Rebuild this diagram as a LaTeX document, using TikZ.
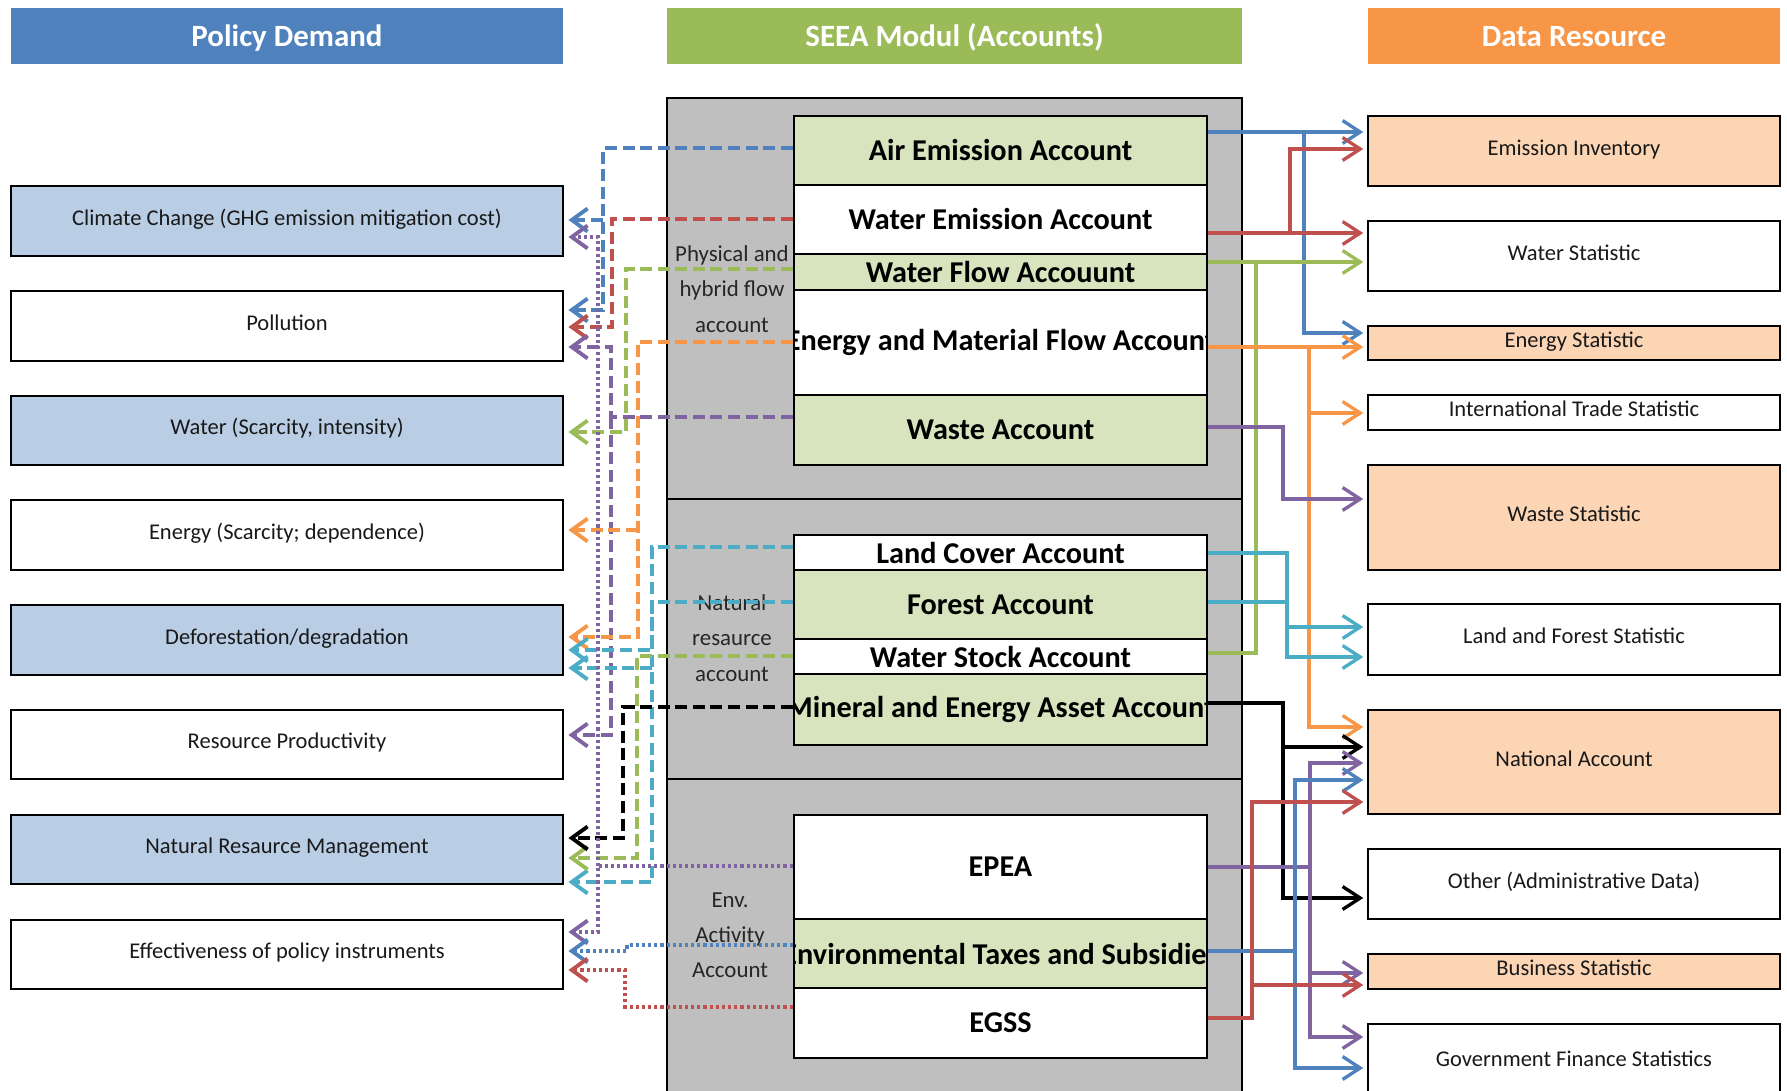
\documentclass[tikz,border=0pt]{standalone}
\usepackage{fontspec}
\setmainfont{Carlito}
\usetikzlibrary{arrows.meta,calc}
\definecolor{cblue}{HTML}{4F81BD}
\definecolor{cred}{HTML}{C0504D}
\definecolor{cgreen}{HTML}{9BBB59}
\definecolor{corange}{HTML}{F79646}
\definecolor{cpurple}{HTML}{8064A2}
\definecolor{ccyan}{HTML}{4BACC6}
\definecolor{lblue}{HTML}{B9CDE5}
\definecolor{lorange}{HTML}{FCD5B5}
\definecolor{lgreen}{HTML}{D7E4BD}
\definecolor{cgray}{HTML}{BFBFBF}
% style, name, x1, y1, x2, y2, fill, text
\newcommand{\boxat}[8]{%
  \node[#1, fill=#7, minimum width={(#5-#3)*0.01cm}, minimum height={(#6-#4)*0.01cm}]
    (#2) at ({(#3+#5)/2},{(#4+#6)/2}) {#8};}
% name, x1, y1, x2, y2, fill, text  (text clipped to the box)
\newcommand{\seeabox}[7]{%
  \boxat{acct}{#1}{#2}{#3}{#4}{#5}{#6}{}
  \begin{scope}
    \clip (#2,#3) rectangle (#4,#5);
    \node[accttext] (#1-t) at (#1.center) {#7};
  \end{scope}}
\begin{document}
\begin{tikzpicture}[x=0.01cm,y=-0.01cm,
  lhead/.tip={Straight Barb[length=4.5pt,width=6.5pt]},
  rhead/.tip={Straight Barb[length=5pt,width=6.5pt]},
  hdr/.style={inner sep=0pt, text=white, text height=0.7em, text depth=0.1em, font=\bfseries\fontsize{8.8}{10}\selectfont},
  pbox/.style={draw=black, line width=0.7pt, inner sep=0pt, text=black!90, text height=0.6em, text depth=0.35em, font=\fontsize{6.4}{7.5}\selectfont},
  acct/.style={draw=black, line width=0.7pt, inner sep=0pt},
  accttext/.style={inner sep=0pt, font=\bfseries\fontsize{8.6}{10}\selectfont},
  side/.style={inner sep=0pt, align=center, text=black!85, font=\fontsize{6.5}{10}\selectfont},
  ld/.style={line width=1.1pt, dash pattern=on 3.4pt off 1.6pt},
  lo/.style={line width=1.1pt, dash pattern=on 0.9pt off 0.85pt},
  la/.style={-lhead, shorten >=1.2pt},
  rs/.style={line width=0.95pt},
  ra/.style={-rhead, shorten >=1pt}]
\useasboundingbox (0,0) rectangle (1787,1091);
\begin{scope}
\clip (0,0) rectangle (1787,1091);
% headers
\boxat{hdr}{hpolicy}{11}{8}{563}{64}{cblue}{Policy Demand}
\boxat{hdr}{hseea}{667}{8}{1242}{64}{cgreen}{SEEA Modul (Accounts)}
\boxat{hdr}{hdata}{1368}{8}{1780}{64}{corange}{Data Resource}
% policy demand boxes
\boxat{pbox}{climate}{11}{186}{563}{256}{lblue}{Climate Change (GHG emission mitigation cost)}
\boxat{pbox}{pollution}{11}{291}{563}{361}{white}{Pollution}
\boxat{pbox}{water}{11}{396}{563}{465}{lblue}{Water (Scarcity, intensity)}
\boxat{pbox}{energy}{11}{500}{563}{570}{white}{Energy (Scarcity; dependence)}
\boxat{pbox}{defor}{11}{605}{563}{675}{lblue}{Deforestation/degradation}
\boxat{pbox}{resprod}{11}{710}{563}{779}{white}{Resource Productivity}
\boxat{pbox}{nrm}{11}{815}{563}{884}{lblue}{Natural Resaurce Management}
\boxat{pbox}{effect}{11}{920}{563}{989}{white}{Effectiveness of policy instruments}
% data resource boxes
\boxat{pbox}{emisinv}{1368}{116}{1780}{186}{lorange}{Emission Inventory}
\boxat{pbox}{waterstat}{1368}{221}{1780}{291}{white}{Water Statistic}
\boxat{pbox}{energystat}{1368}{326}{1780}{360}{lorange}{Energy Statistic}
\boxat{pbox}{tradestat}{1368}{395}{1780}{430}{white}{International Trade Statistic}
\boxat{pbox}{wastestat}{1368}{465}{1780}{570}{lorange}{Waste Statistic}
\boxat{pbox}{landforest}{1368}{604}{1780}{675}{white}{Land and Forest Statistic}
\boxat{pbox}{natacc}{1368}{710}{1780}{814}{lorange}{National Account}
\boxat{pbox}{other}{1368}{849}{1780}{919}{white}{Other (Administrative Data)}
\boxat{pbox}{business}{1368}{954}{1780}{989}{lorange}{Business Statistic}
\boxat{pbox}{govfin}{1368}{1024}{1780}{1100}{white}{}
\node[pbox, draw=none, fill=none] (govfin-t) at (1574,1062) {Government Finance Statistics};
% SEEA gray container
\fill[cgray] (667,98) rectangle (1242,1100);
\draw[line width=0.7pt] (667,1100) -- (667,98) -- (1242,98) -- (1242,1100);
\draw[line width=0.7pt] (667,499) -- (1242,499);
\draw[line width=0.7pt] (667,779) -- (1242,779);
% accounts
\seeabox{air}{794}{116}{1207}{185}{lgreen}{Air Emission Account}
\seeabox{wemis}{794}{185}{1207}{254}{white}{Water Emission Account}
\seeabox{wflow}{794}{254}{1207}{290}{lgreen}{Water Flow Accouunt}
\seeabox{emflow}{794}{290}{1207}{395}{white}{Energy and Material Flow Account}
\seeabox{waste}{794}{395}{1207}{465}{lgreen}{Waste Account}
\seeabox{land}{794}{535}{1207}{570}{white}{Land Cover Account}
\seeabox{forest}{794}{570}{1207}{639}{lgreen}{Forest Account}
\seeabox{wstock}{794}{639}{1207}{674}{white}{Water Stock Account}
\seeabox{mineral}{794}{674}{1207}{745}{lgreen}{Mineral and Energy Asset Account}
\seeabox{epea}{794}{815}{1207}{919}{white}{EPEA}
\seeabox{envtax}{794}{919}{1207}{988}{lgreen}{Environmental Taxes and Subsidies}
\seeabox{egss}{794}{988}{1207}{1058}{white}{EGSS}
% side labels
\node[side] (lphys) at (732,289) {Physical and\\hybrid flow\\account};
\node[side] (lnat) at (732,638) {Natural\\resaurce\\account};
\node[side] (lenv) at (730,935) {Env.\\Activity\\Account};
% ---------- left connectors ----------
\draw[ld, cblue, la] (air.west |- 0,148) -- (603,148) -- (603,310) -- (pollution.east |- 0,310);
\coordinate (jb1) at (603,220);
\draw[ld, cblue, la] (jb1) -- (climate.east |- 0,220);
\draw[ld, cred, la] (wemis.west |- 0,219) -- (612,219) -- (612,327) -- (pollution.east |- 0,327);
\coordinate (jp1) at (611,417);
\draw[ld, cpurple, la] (waste.west |- 0,417) -- (jp1) -- (611,347) -- (pollution.east |- 0,347);
\draw[ld, cpurple, la] (jp1) -- (611,735) -- (resprod.east |- 0,735);
\draw[ld, cgreen, la] (wflow.west |- 0,269) -- (626,269) -- (626,432) -- (water.east |- 0,432);
\draw[ld, corange, la] (emflow.west |- 0,342) -- (638,342) -- (638,637) -- (defor.east |- 0,637);
\coordinate (jo1) at (638,530);
\draw[ld, corange, la] (jo1) -- (energy.east |- 0,530);
\draw[ld, ccyan, la] (land.west |- 0,547) -- (652,547) -- (652,650) -- (defor.east |- 0,650);
\draw[ld, ccyan, la] (forest.west |- 0,602) -- (652,602) -- (652,882) -- (nrm.east |- 0,882);
\coordinate (jc1) at (652,668);
\draw[ld, ccyan, la] (jc1) -- (defor.east |- 0,668);
\draw[ld, cgreen, la] (wstock.west |- 0,656) -- (637,656) -- (637,858) -- (nrm.east |- 0,858);
\draw[ld, black, la] (mineral.west |- 0,707) -- (623,707) -- (623,838) -- (nrm.east |- 0,838);
\coordinate (jp2) at (598,866);
\draw[lo, cpurple, la] (epea.west |- 0,866) -- (jp2) -- (598,932) -- (effect.east |- 0,932);
\draw[lo, cpurple, la] (jp2) -- (598,237) -- (climate.east |- 0,237);
\draw[lo, cblue, la] (envtax.west |- 0,945) -- (627,945) -- (627,951) -- (effect.east |- 0,951);
\draw[lo, cred, la] (egss.west |- 0,1007) -- (625,1007) -- (625,970) -- (effect.east |- 0,970);
% ---------- right connectors ----------
\draw[rs, cblue, ra] (air.east |- 0,132) -- (emisinv.west |- 0,132);
\coordinate (rb1) at (1304,132);
\draw[rs, cblue, ra] (rb1) -- (1304,333) -- (energystat.west |- 0,333);
\draw[rs, cred, ra] (wemis.east |- 0,233) -- (waterstat.west |- 0,233);
\coordinate (rr1) at (1290,233);
\draw[rs, cred, ra] (rr1) -- (1290,149) -- (emisinv.west |- 0,149);
\draw[rs, cgreen, ra] (wflow.east |- 0,262) -- (waterstat.west |- 0,262);
\draw[rs, cgreen] (wstock.east |- 0,653) -- (1256,653) -- (1256,262);
\draw[rs, corange, ra] (emflow.east |- 0,347) -- (energystat.west |- 0,347);
\coordinate (ro1) at (1309,347);
\draw[rs, corange, ra] (ro1) -- (1309,727) -- (natacc.west |- 0,727);
\coordinate (ro2) at (1309,413);
\draw[rs, corange, ra] (ro2) -- (tradestat.west |- 0,413);
\draw[rs, cpurple, ra] (waste.east |- 0,427) -- (1283,427) -- (1283,499) -- (wastestat.west |- 0,499);
\draw[rs, ccyan, ra] (land.east |- 0,553) -- (1287,553) -- (1287,627) -- (landforest.west |- 0,627);
\draw[rs, ccyan, ra] (forest.east |- 0,602) -- (1287,602) -- (1287,657) -- (landforest.west |- 0,657);
\draw[rs, black, ra] (mineral.east |- 0,703) -- (1283,703) -- (1283,898) -- (other.west |- 0,898);
\coordinate (rk1) at (1283,747);
\draw[rs, black, ra] (rk1) -- (natacc.west |- 0,747);
\coordinate (rp1) at (1310,867);
\draw[rs, cpurple] (epea.east |- 0,867) -- (rp1);
\draw[rs, cpurple, ra] (rp1) -- (1310,763) -- (natacc.west |- 0,763);
\draw[rs, cpurple, ra] (rp1) -- (1310,1037) -- (govfin.west |- 0,1037);
\coordinate (rp2) at (1310,973);
\draw[rs, cpurple, ra] (rp2) -- (business.west |- 0,973);
\coordinate (rb2) at (1295,951);
\draw[rs, cblue] (envtax.east |- 0,951) -- (rb2);
\draw[rs, cblue, ra] (rb2) -- (1295,780) -- (natacc.west |- 0,780);
\draw[rs, cblue, ra] (rb2) -- (1295,1068) -- (govfin.west |- 0,1068);
\draw[rs, cred, ra] (egss.east |- 0,1018) -- (1252,1018) -- (1252,802) -- (natacc.west |- 0,802);
\coordinate (rr2) at (1252,985);
\draw[rs, cred, ra] (rr2) -- (business.west |- 0,985);
\end{scope}
\end{tikzpicture}
\end{document}
